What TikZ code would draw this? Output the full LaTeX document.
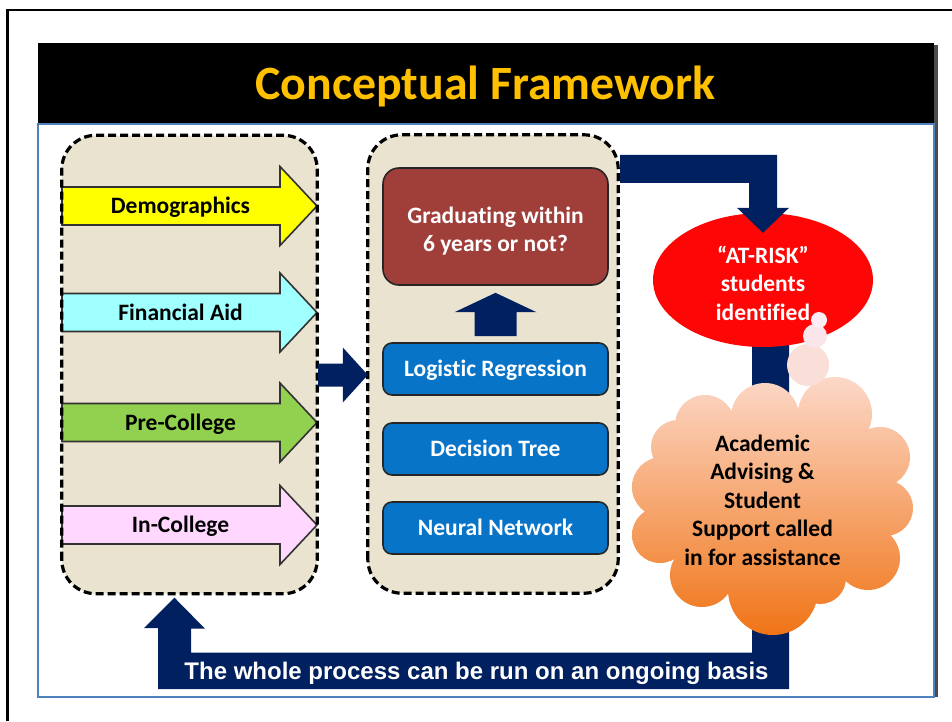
\documentclass[tikz,border=0pt]{standalone}
\usepackage{fontspec}
\setmainfont{Carlito}[Ligatures={TeX,NoCommon}, Contextuals=NoAlternate]
\newfontfamily\notefont{Liberation Sans}
\usetikzlibrary{calc,shapes.geometric}

\definecolor{beige}{RGB}{233,227,207}
\definecolor{navy}{RGB}{0,32,96}
\definecolor{demoyellow}{RGB}{255,255,0}
\definecolor{fincyan}{RGB}{160,255,255}
\definecolor{pregreen}{RGB}{146,208,80}
\definecolor{incpink}{RGB}{255,215,255}
\definecolor{gradred}{RGB}{160,62,58}
\definecolor{modelblue}{RGB}{8,116,200}
\definecolor{titlegold}{RGB}{255,192,0}
\definecolor{slideblue}{RGB}{79,129,189}
\definecolor{riskred}{RGB}{255,6,6}
\definecolor{cloudtop}{RGB}{252,216,200}
\definecolor{cloudbot}{RGB}{240,116,22}
\definecolor{puffa}{RGB}{251,237,243}
\definecolor{puffb}{RGB}{250,230,234}
\definecolor{puffc}{RGB}{250,223,216}

\tikzset{
  lbl/.style={font=\fontsize{23.5}{28.5}\selectfont\bfseries},
  oneline/.style={text height=15pt, text depth=0pt},
  panel/.style={fill=beige, rounded corners=34pt, inner sep=0pt},
  panelrim/.style={draw=black, line width=3.2pt, dash pattern=on 8pt off 4pt, rounded corners=34pt},
  inarrow/.style={draw=black!80, line width=1.6pt, line join=miter},
  modelbox/.style={lbl, oneline, draw=black!85, line width=1.6pt, fill=modelblue,
    rounded corners=9pt, minimum width=225pt, minimum height=52pt, text=white},
  outcome/.style={draw=black!85, line width=1.6pt, fill=gradred,
    rounded corners=16pt, minimum width=225pt, minimum height=117pt},
  riskoval/.style={ellipse, fill=riskred, minimum width=220pt, minimum height=134pt, inner sep=0pt},
  flow/.style={fill=navy},
}

\begin{document}
\begin{tikzpicture}[x=1pt, y=-1pt]
\useasboundingbox (0,0) rectangle (952,721);
\fill[white] (0,0) rectangle (952,721);

% page frame
\draw[line width=2.2pt] (7.5,721) -- (7.5,10) -- (952,10);

% slide with shadow and title band
\fill[black!70] (934,45) rectangle (937.5,697);
\fill[white] (38,43) rectangle (934,697);
\draw[slideblue, line width=1.2pt] (38,124) rectangle (934,697);
\fill[black] (38,43) rectangle (934,123);
\node[anchor=base, text=titlegold, font=\fontsize{47.8}{50}\selectfont\bfseries]
  (title) at (485.5,99.5) {Conceptual Framework};

% input panel with the four factor groups
\node[panel, minimum width=255pt, minimum height=458pt] (inputs) at (189.5,364.5) {};
\foreach \nm/\col/\yc/\txt in {demo/demoyellow/206/Demographics,
                               fin/fincyan/312.5/Financial Aid,
                               pre/pregreen/422.5/Pre-College,
                               inc/incpink/525/In-College} {
  \draw[inarrow, fill=\col] (62,\yc-19) -- (280,\yc-19) -- (280,\yc-39.5) -- (317,\yc)
    -- (280,\yc+39.5) -- (280,\yc+19) -- (62,\yc+19) -- cycle;
  \node[lbl, oneline] (\nm) at (180.5,\yc) {\txt};
}
\draw[panelrim] (inputs.south west) rectangle (inputs.north east);

% model panel
\node[panel, minimum width=250pt, minimum height=458pt] (models) at (493,364) {};
\draw[panelrim] (models.south west) rectangle (models.north east);
\node[outcome] (grad) at (495.5,226.5) {};
\node[lbl, align=center, text=white] (gradtext) at (495.5,231)
  {Graduating within\\6 years or not?};
\node[modelbox] (lr) at (495.5,369) {Logistic Regression};
\node[modelbox] (dt) at (495.5,449) {Decision Tree};
\node[modelbox] (nn) at (495.5,528) {Neural Network};

% model -> outcome
\coordinate (ua0) at ($(lr.north)+(0,-6)$);
\coordinate (ua1) at ($(grad.south)+(0,7)$);
\fill[flow] ($(ua0)+(-21,0)$) -- ($(ua0)+(21,0)$) -- ($(ua0)+(21,-24)$) -- ($(ua0)+(41,-24)$)
  -- (ua1) -- ($(ua0)+(-41,-24)$) -- ($(ua0)+(-21,-24)$) -- cycle;

% inputs -> models
\coordinate (ba0) at ($(inputs.east)+(1,10.5)$);
\coordinate (ba1) at ($(models.west)+(0,11)$);
\fill[flow] ($(ba0)+(0,-11.5)$) -- ($(ba1)+(-25,-11.5)$) -- ($(ba1)+(-25,-27.5)$) -- (ba1)
  -- ($(ba1)+(-25,27.5)$) -- ($(ba1)+(-25,11.5)$) -- ($(ba0)+(0,11.5)$) -- cycle;

% at-risk students (position first, drawn after the loop)
\coordinate (atriskc) at (763,280);

% feedback loop back to the inputs
\coordinate (lp) at ($(atriskc)+(-11,20)$);
\coordinate (lt) at ($(inputs.south)+(-15,4)$);
\fill[flow] (lp) -- ++(37,0) -- ++(0,389) -- ++(-631,0) -- ++(0,-61) -- ++(-14,0) -- (lt)
  -- ++(30.5,31) -- ++(-14,0) -- ++(0,24) -- ++(561,0) -- cycle;
\node[font=\notefont\fontsize{24}{27}\selectfont\bfseries, text=white,
      text height=17pt, text depth=0pt] (note) at (476.5,670.5)
  {The whole process can be run on an ongoing basis};

\node[riskoval] (atrisk) at (atriskc) {};
\node[lbl, align=center, text=white] (risktext) at (763,283)
  {“AT-RISK”\\students\\identified};

% models -> at-risk
\coordinate (tb0) at ($(models.north east)+(2,20)$);
\coordinate (tb1) at ($(atrisk.north)+(0,20)$);
\fill[flow] (tb0) -- ($(tb1|-tb0)+(14,0)$) -- ($(tb1)+(14,-25)$) -- ($(tb1)+(26,-25)$) -- (tb1)
  -- ($(tb1)+(-26,-25)$) -- ($(tb1)+(-14,-25)$) -- ($(tb1|-tb0)+(-14,28)$)
  -- ($(tb0)+(0,28)$) -- cycle;

% advising cloud
\shade[top color=cloudtop, bottom color=cloudbot]
  (772,500) ellipse[x radius=118pt, y radius=95pt]
  (705,425) circle[radius=30pt]
  (765,417) circle[radius=34pt]
  (835,414) circle[radius=37pt]
  (880,457) circle[radius=30pt]
  (885,508) circle[radius=28pt]
  (868,558) circle[radius=32pt]
  (820,578) circle[radius=26pt]
  (773,590) circle[radius=45pt]
  (702,575) circle[radius=32pt]
  (660,535) circle[radius=28pt]
  (662,487) circle[radius=30pt]
  (678,447) circle[radius=27pt];
\fill[puffc] (808,365) circle[radius=21pt];
\fill[puffb] (815,336) circle[radius=12pt];
\fill[puffa] (819,320) circle[radius=8pt];
\node[lbl, align=center] (advising) at (762.5,500)
  {Academic\\Advising \&\\Student\\Support called\\in for assistance};
\end{tikzpicture}
\end{document}
